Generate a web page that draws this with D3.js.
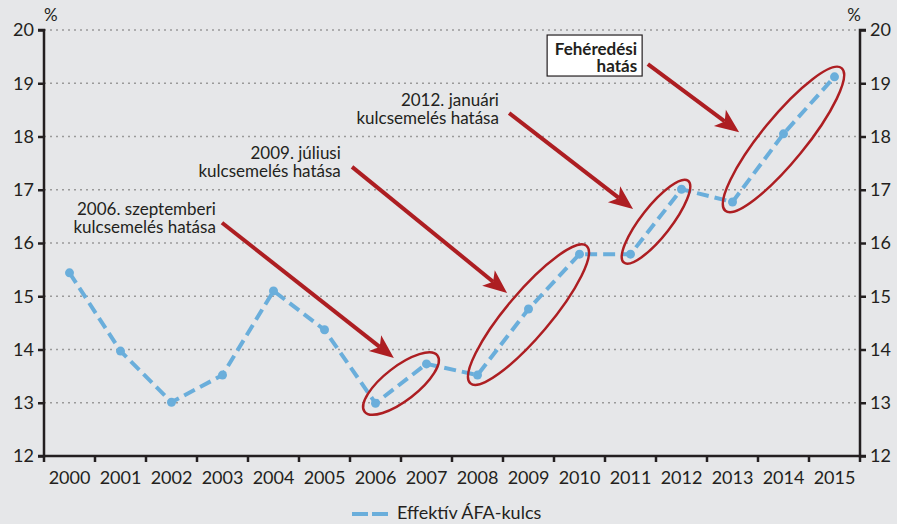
<!DOCTYPE html>
<html>
<head>
<meta charset="utf-8">
<script src="https://cdn.jsdelivr.net/npm/d3@7"></script>
<style>
  body { margin: 0; background: #e6e7e9; }
  svg { display: block; font-family: Lato, "Open Sans", sans-serif; }
</style>
</head>
<body>
<svg id="chart" width="897" height="524"></svg>
<script>
// data
const years = ["2000","2001","2002","2003","2004","2005","2006","2007","2008","2009","2010","2011","2012","2013","2014","2015"];
const rates = [15.44, 13.97, 13.01, 13.52, 15.10, 14.37, 12.99, 13.73, 13.52, 14.76, 15.79, 15.79, 17.01, 16.77, 18.05, 19.12];
const yTicks = [12, 13, 14, 15, 16, 17, 18, 19, 20];
const seriesName = "Effektív ÁFA-kulcs";

// ellipses: from year, to year (around the segment)
const rings = [
  { from: "2006", to: "2007", a: 46, b: 17 },
  { from: "2008", to: "2010", a: 90, b: 22 },
  { from: "2011", to: "2012", a: 52, b: 15 },
  { from: "2013", to: "2015", a: 92, b: 22 }
];
// arrows in data units (fractional year, value)
const arrows = [
  { x1: 2002.99, y1: 16.38, x2: 2006.36, y2: 13.84 },
  { x1: 2005.54, y1: 17.43, x2: 2008.58, y2: 15.06 },
  { x1: 2008.62, y1: 18.44, x2: 2011.05, y2: 16.64 },
  { x1: 2011.34, y1: 19.36, x2: 2013.13, y2: 18.08 }
];
// labels (right aligned)
const notes = [
  { x: 2002.87, y: 16.53, lines: ["2006. szeptemberi", "kulcsemelés hatása"] },
  { x: 2005.32, y: 17.58, lines: ["2009. júliusi", "kulcsemelés hatása"] },
  { x: 2008.42, y: 18.57, lines: ["2012. januári", "kulcsemelés hatása"] },
  { x: 2011.13, y: 19.53, lines: ["Fehéredési", "hatás"], boxed: true }
];

const svg = d3.select("#chart");
const mLeft = 44, mRight = 860, mTop = 30, mBottom = 456;
const red = "#ad1e22", blue = "#6aaedb", ink = "#231f20";

const x = d3.scaleBand().domain(years).range([mLeft, mRight]).padding(0);
const xl = d3.scaleLinear().domain([1999.5, 2015.5]).range([mLeft, mRight]);
const y = d3.scaleLinear().domain([12, 20]).range([mBottom, mTop]);
const cx = d => x(d) + x.bandwidth() / 2;

// gridlines
svg.append("g")
  .selectAll("line")
  .data(yTicks.filter(t => t > 12))
  .enter().append("line")
    .attr("x1", mLeft).attr("x2", mRight)
    .attr("y1", d => y(d)).attr("y2", d => y(d))
    .attr("stroke", "#9a9a9a")
    .attr("stroke-width", 1.3)
    .attr("stroke-dasharray", "2,4");

// axes
const axisL = svg.append("g").attr("transform", `translate(${mLeft},0)`)
  .call(d3.axisLeft(y).tickValues(yTicks).tickSize(6).tickPadding(4));
const axisR = svg.append("g").attr("transform", `translate(${mRight},0)`)
  .call(d3.axisRight(y).tickValues(yTicks).tickSize(6).tickPadding(4));
const axisB = svg.append("g").attr("transform", `translate(0,${mBottom})`)
  .call(d3.axisBottom(x).tickSize(0).tickPadding(15));

// bottom ticks on band boundaries
svg.append("g")
  .selectAll("line")
  .data(years.concat(["end"]))
  .enter().append("line")
    .attr("x1", (d, i) => mLeft + i * x.step())
    .attr("x2", (d, i) => mLeft + i * x.step())
    .attr("y1", mBottom).attr("y2", mBottom + 6)
    .attr("stroke", ink).attr("stroke-width", 2.5);

[axisL, axisR, axisB].forEach(g => {
  g.select(".domain").attr("stroke", ink).attr("stroke-width", 2.5);
  g.selectAll(".tick line").attr("stroke", ink).attr("stroke-width", 2.5);
  g.selectAll("text").attr("font-size", 18).attr("fill", ink)
    .attr("font-family", "Lato, sans-serif");
});
axisL.select(".domain").attr("d", `M-6,${mTop}H0V${mBottom}H-6`);
axisR.select(".domain").attr("d", `M6,${mTop}H0V${mBottom}H6`);
axisB.select(".domain").attr("d", `M${mLeft},0H${mRight}`);

// % labels
svg.append("text").attr("x", mLeft).attr("y", 21).attr("font-size", 17)
  .attr("fill", ink).text("%");
svg.append("text").attr("x", mRight + 1).attr("y", 21).attr("font-size", 17)
  .attr("text-anchor", "end").attr("fill", ink).text("%");

// series
const line = d3.line().x((d, i) => cx(years[i])).y(d => y(d));
svg.append("path")
  .datum(rates)
  .attr("d", line)
  .attr("fill", "none")
  .attr("stroke", blue)
  .attr("stroke-width", 4)
  .attr("stroke-dasharray", "12,6");
svg.append("g")
  .selectAll("circle")
  .data(rates)
  .enter().append("circle")
    .attr("cx", (d, i) => cx(years[i]))
    .attr("cy", d => y(d))
    .attr("r", 4.5)
    .attr("fill", blue);

// ellipses
svg.append("g")
  .selectAll("ellipse")
  .data(rings)
  .enter().append("ellipse")
    .each(function(d) {
      const i0 = years.indexOf(d.from), i1 = years.indexOf(d.to);
      const xa = cx(d.from), ya = y(rates[i0]), xb = cx(d.to), yb = y(rates[i1]);
      const ang = Math.atan2(yb - ya, xb - xa) * 180 / Math.PI;
      d3.select(this)
        .attr("rx", d.a).attr("ry", d.b)
        .attr("transform", `translate(${(xa + xb) / 2},${(ya + yb) / 2}) rotate(${ang})`);
    })
    .attr("fill", "none")
    .attr("stroke", red)
    .attr("stroke-width", 2.5);

// arrows
const ag = svg.append("g");
arrows.forEach(d => {
  const xa = xl(d.x1), ya = y(d.y1), xb = xl(d.x2), yb = y(d.y2);
  const ang = Math.atan2(yb - ya, xb - xa);
  const len = 24, hw = 10, notch = 6;
  const ux = Math.cos(ang), uy = Math.sin(ang);
  const bx = xb - ux * len, by = yb - uy * len;
  ag.append("line")
    .attr("x1", xa).attr("y1", ya)
    .attr("x2", xb - ux * (len - notch)).attr("y2", yb - uy * (len - notch))
    .attr("stroke", red).attr("stroke-width", 4);
  ag.append("path")
    .attr("d", `M${xb},${yb}L${bx - uy * hw},${by + ux * hw}L${bx + ux * notch},${by + uy * notch}L${bx + uy * hw},${by - ux * hw}Z`)
    .attr("fill", red);
});

// notes
notes.forEach(n => {
  const tx = xl(n.x), ty = y(n.y);
  if (n.boxed) {
    svg.append("rect")
      .attr("x", tx - 90).attr("y", ty - 20)
      .attr("width", 95).attr("height", 41)
      .attr("fill", "#ffffff").attr("stroke", ink).attr("stroke-width", 1.2);
  }
  n.lines.forEach((s, i) => {
    svg.append("text")
      .attr("text-anchor", "end")
      .attr("font-size", 17)
      .attr("font-weight", n.boxed ? "bold" : "normal")
      .attr("fill", ink)
      .attr("x", tx).attr("y", ty + i * (n.boxed ? 16.5 : 18))
      .text(s);
  });
});

// legend
const lg = svg.append("g");
lg.append("line")
  .attr("x1", 352).attr("x2", 388).attr("y1", 514).attr("y2", 514)
  .attr("stroke", blue).attr("stroke-width", 4).attr("stroke-dasharray", "16,4");
lg.append("text").attr("x", 397).attr("y", 519).attr("font-size", 18)
  .attr("fill", ink).text(seriesName);
</script>
</body>
</html>
